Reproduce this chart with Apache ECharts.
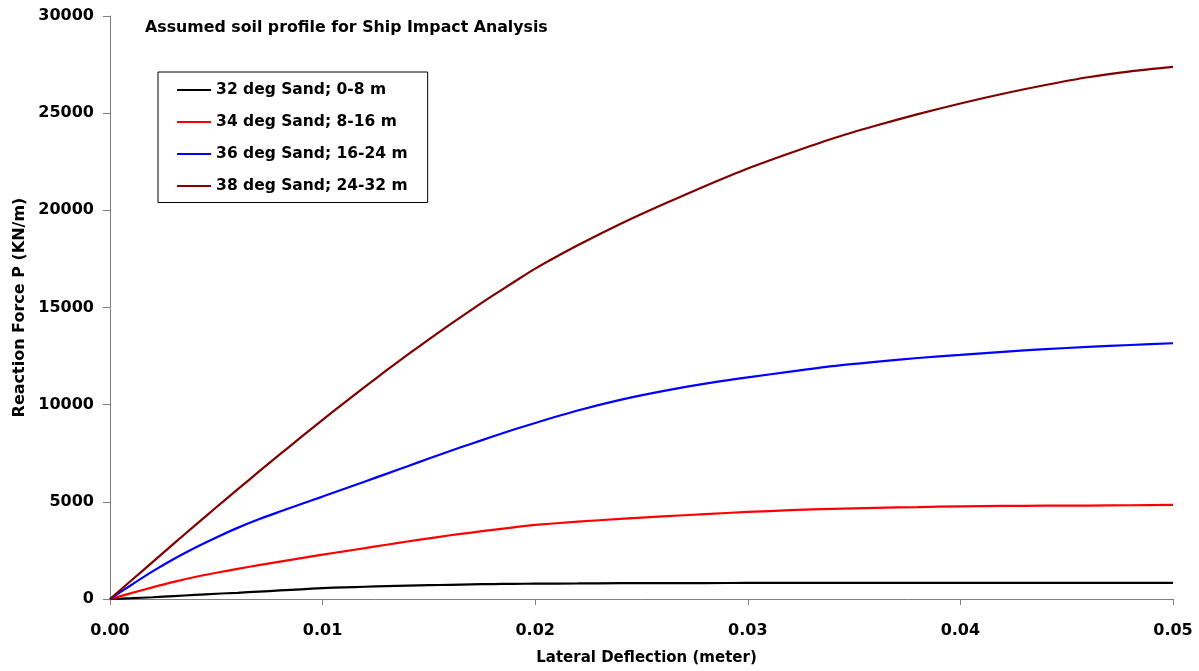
<!DOCTYPE html>
<html>
<head>
<meta charset="utf-8">
<title>Assumed soil profile for Ship Impact Analysis</title>
<script src="https://cdn.jsdelivr.net/npm/echarts@6/dist/echarts.min.js"></script>
<style>
  html, body { margin: 0; padding: 0; background: #ffffff; }
  #chart { width: 1199px; height: 671px; }
</style>
</head>
<body>
<div id="chart"></div>
<script>
// Lateral deflection (m) at which each reaction force is sampled
const deflection = [
  0, 0.001, 0.002, 0.003, 0.004, 0.005, 0.006, 0.007, 0.008, 0.009,
  0.010, 0.011, 0.012, 0.013, 0.014, 0.015, 0.016, 0.017, 0.018, 0.019,
  0.020, 0.022, 0.024, 0.026, 0.028, 0.030, 0.032, 0.034, 0.036, 0.038,
  0.040, 0.042, 0.044, 0.046, 0.048, 0.050
];

// Reaction force P (KN/m) for each sand layer
const sand32 = [
  0, 40, 90, 150, 210, 270, 320, 380, 440, 500,
  560, 600, 630, 660, 690, 710, 730, 750, 770, 780,
  790, 800, 815, 820, 822, 825, 827, 828, 829, 830,
  830, 830, 830, 830, 830, 830
];
const sand34 = [
  0, 300, 600, 880, 1130, 1350, 1550, 1740, 1920, 2100,
  2280, 2450, 2620, 2790, 2960, 3120, 3280, 3420, 3560, 3690,
  3810, 3980, 4120, 4250, 4370, 4480, 4570, 4640, 4690, 4730,
  4770, 4790, 4800, 4810, 4825, 4840
];
const sand36 = [
  0, 720, 1420, 2060, 2640, 3170, 3660, 4100, 4500, 4890,
  5270, 5660, 6050, 6440, 6830, 7230, 7620, 7990, 8360, 8720,
  9060, 9700, 10250, 10700, 11080, 11400, 11700, 11980, 12200, 12400,
  12560, 12720, 12860, 12970, 13070, 13160
];
const sand38 = [
  0, 950, 1900, 2850, 3790, 4720, 5640, 6550, 7450, 8340,
  9220, 10080, 10930, 11760, 12570, 13360, 14130, 14880, 15610, 16310,
  17000, 18200, 19300, 20300, 21250, 22150, 22950, 23700, 24350, 24950,
  25500, 26000, 26450, 26850, 27150, 27380
];

const seriesNames = [
  '32 deg Sand; 0-8 m',
  '34 deg Sand; 8-16 m',
  '36 deg Sand; 16-24 m',
  '38 deg Sand; 24-32 m'
];
const seriesValues = [sand32, sand34, sand36, sand38];
const seriesColors = ['#000000', '#ff0000', '#0000ff', '#800000'];

const titleText = 'Assumed soil profile for Ship Impact Analysis';
const xAxisName = 'Lateral Deflection (meter)';
const yAxisName = 'Reaction Force P (KN/m)';

const FONT = 'DejaVu Sans';
const axisGray = '#808080';

const chart = echarts.init(document.getElementById('chart'), null, { renderer: 'canvas' });

const series = seriesNames.map((name, i) => ({
  name: name,
  type: 'line',
  data: deflection.map((x, j) => [x, seriesValues[i][j]]),
  symbol: 'none',
  smooth: 0.25,
  lineStyle: { color: seriesColors[i], width: 2.2 },
  itemStyle: { color: seriesColors[i] },
  emphasis: { disabled: true },
  animation: false
}));

chart.setOption({
  backgroundColor: '#ffffff',
  animation: false,
  title: {
    text: titleText,
    left: 145,
    top: 20,
    padding: 0,
    textStyle: { fontFamily: FONT, fontSize: 15.8, fontWeight: 'bold', color: '#000000' }
  },
  legend: {
    orient: 'vertical',
    left: 158,
    top: 72,
    padding: [10, 20, 8.5, 18],
    itemWidth: 34,
    itemHeight: 14,
    itemGap: 16,
    borderColor: '#000000',
    borderWidth: 1,
    backgroundColor: '#ffffff',
    // legend keys are plain line segments, no point markers
    itemStyle: { opacity: 0, color: 'rgba(0,0,0,0)', borderWidth: 0 },
    lineStyle: { width: 2.2 },
    textStyle: { fontFamily: FONT, fontSize: 15.5, fontWeight: 'bold', color: '#000000' },
    data: seriesNames
  },
  grid: { left: 110, right: 26, top: 16, bottom: 72, containLabel: false },
  xAxis: {
    type: 'value',
    min: 0,
    max: 0.05,
    interval: 0.01,
    name: xAxisName,
    nameLocation: 'middle',
    nameGap: 52,
    nameTextStyle: { fontFamily: FONT, fontSize: 15, fontWeight: 'bold', color: '#000000', padding: [0, 0, 0, 10] },
    axisLine: { show: true, lineStyle: { color: axisGray, width: 1 } },
    axisTick: { show: true, length: 6, lineStyle: { color: axisGray } },
    axisLabel: {
      margin: 24,
      fontFamily: FONT, fontSize: 16, fontWeight: 'bold', color: '#000000',
      formatter: v => v.toFixed(2)
    },
    splitLine: { show: false }
  },
  yAxis: {
    type: 'value',
    min: 0,
    max: 30000,
    interval: 5000,
    name: yAxisName,
    nameLocation: 'middle',
    nameGap: 81,
    nameRotate: 90,
    nameTextStyle: { fontFamily: FONT, fontSize: 16, fontWeight: 'bold', color: '#000000', padding: [0, 0, 0, 0] },
    axisLine: { show: true, lineStyle: { color: axisGray, width: 1 } },
    axisTick: { show: true, length: 7, lineStyle: { color: axisGray } },
    axisLabel: {
      margin: 16,
      fontFamily: FONT, fontSize: 16, fontWeight: 'bold', color: '#000000',
      formatter: v => String(v)
    },
    splitLine: { show: false }
  },
  series: series
});
</script>
</body>
</html>
